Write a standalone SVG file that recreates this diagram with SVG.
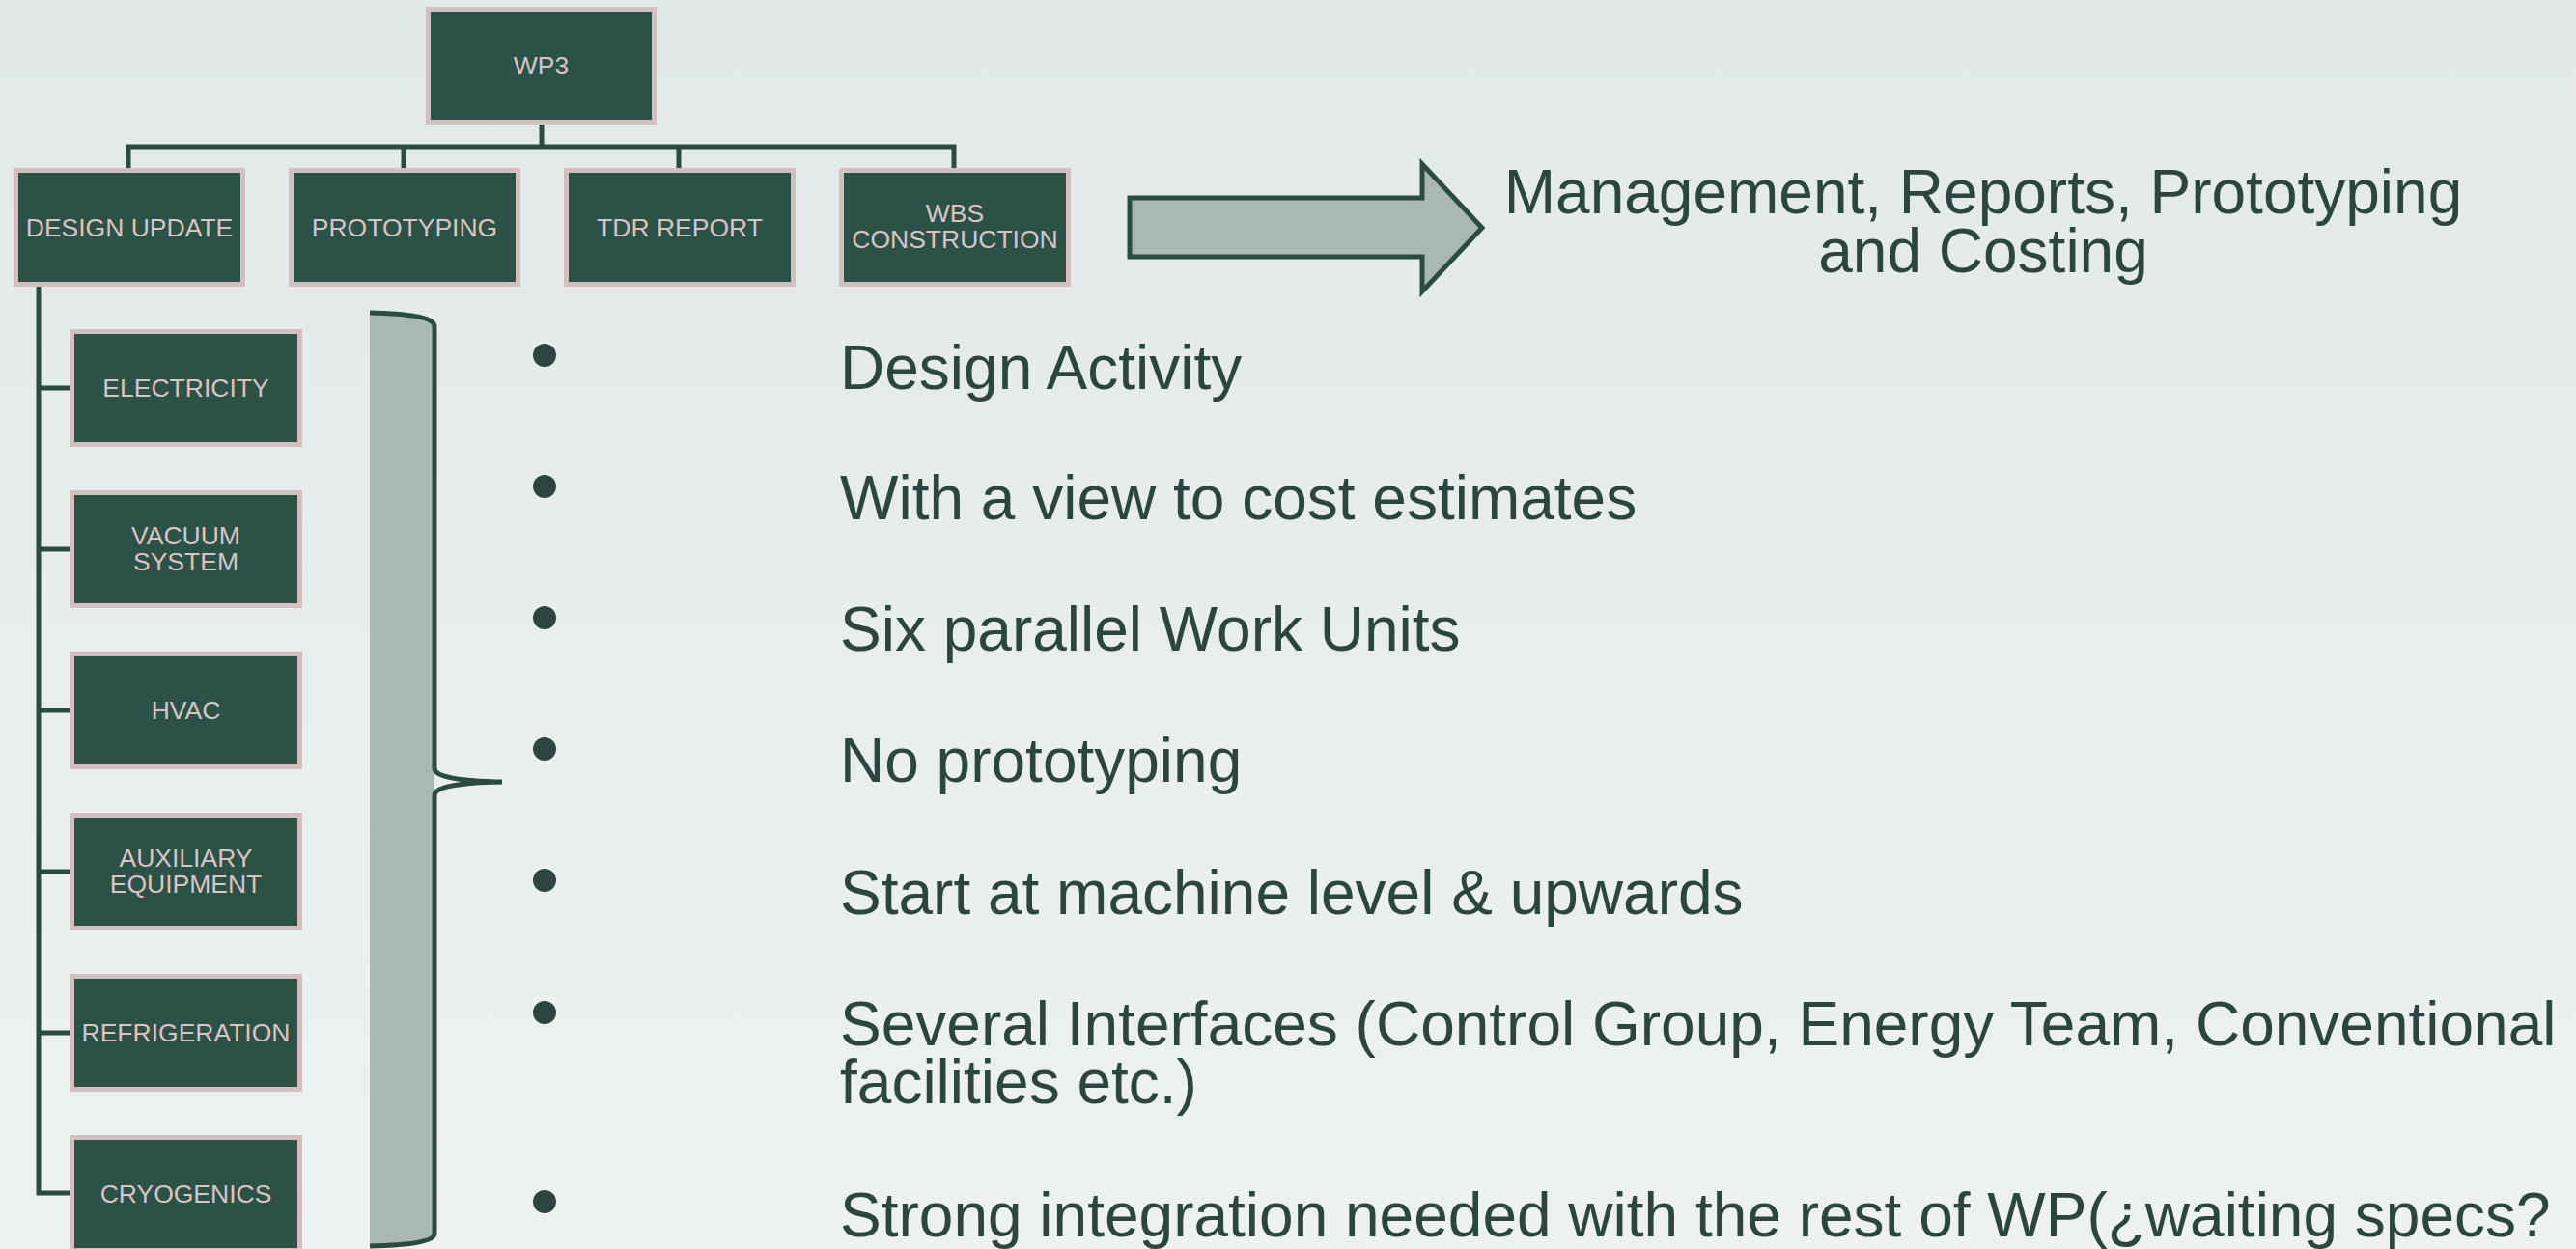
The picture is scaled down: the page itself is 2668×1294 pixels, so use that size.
<svg xmlns="http://www.w3.org/2000/svg" width="2668" height="1294" viewBox="0 0 2668 1294">
<style>
.box rect{fill:#2c5147;stroke:#d3bfc0;stroke-width:5}
.box text{font-family:"Liberation Sans",Arial,sans-serif;font-size:26.5px;fill:#d8c4c4;text-anchor:middle}
.con{stroke:#2a4a42;stroke-width:5;fill:none;stroke-linecap:square}
.bul{fill:#2d4540}
.bt{font-family:"Liberation Sans",Arial,sans-serif;font-size:64px;fill:#2d4540}
.title{font-family:"Liberation Sans",Arial,sans-serif;font-size:64px;fill:#2d4540;text-anchor:middle}
</style>
<defs>
<linearGradient id="bg" x1="0" y1="0" x2="0" y2="1">
<stop offset="0" stop-color="#e2e9e9"/>
<stop offset="1" stop-color="#edf1f1"/>
</linearGradient>
</defs>
<rect x="0" y="0" width="2668" height="1294" fill="url(#bg)"/>

<g id="connectors">
<path class="con" d="M561,129 V152 M133,152 H988 M133,152 V174 M418,152 V174 M703,152 V174 M988,152 V174"/>
<path class="con" d="M40,297 V1236 M40,402 H72 M40,569 H72 M40,736 H72 M40,903 H72 M40,1070 H72 M40,1236 H72"/>
</g>

<g id="wp3" class="box"><rect x="443.5" y="9.5" width="234" height="117"/><text x="560.5" y="77">WP3</text></g>
<g id="design-update" class="box"><rect x="16.5" y="176.5" width="235" height="118"/><text x="134" y="245">DESIGN UPDATE</text></g>
<g id="prototyping" class="box"><rect x="301.5" y="176.5" width="235" height="118"/><text x="419" y="245">PROTOTYPING</text></g>
<g id="tdr-report" class="box"><rect x="586.5" y="176.5" width="235" height="118"/><text x="704" y="245">TDR REPORT</text></g>
<g id="wbs-construction" class="box"><rect x="871.5" y="176.5" width="235" height="118"/><text x="989" y="230">WBS</text><text x="989" y="257">CONSTRUCTION</text></g>

<g id="electricity" class="box"><rect x="74.5" y="343.5" width="236" height="117"/><text x="192.5" y="411">ELECTRICITY</text></g>
<g id="vacuum-system" class="box"><rect x="74.5" y="510.5" width="236" height="117"/><text x="192.5" y="564">VACUUM</text><text x="192.5" y="591">SYSTEM</text></g>
<g id="hvac" class="box"><rect x="74.5" y="677.5" width="236" height="117"/><text x="192.5" y="745">HVAC</text></g>
<g id="auxiliary-equipment" class="box"><rect x="74.5" y="844.5" width="236" height="117"/><text x="192.5" y="898">AUXILIARY</text><text x="192.5" y="925">EQUIPMENT</text></g>
<g id="refrigeration" class="box"><rect x="74.5" y="1011.5" width="236" height="117"/><text x="192.5" y="1079">REFRIGERATION</text></g>
<g id="cryogenics" class="box"><rect x="74.5" y="1178.5" width="236" height="117"/><text x="192.5" y="1246">CRYOGENICS</text></g>

<g id="brace">
<path d="M383,324 C420,325 450,328 450,338 L450,1278 C450,1287 420,1290 383,1291 Z" fill="#a9b8b5"/>
<path d="M383,324 C420,325 450,328 450,338 L450,796 C450,804 470,809 520,810 C470,811 450,816 450,824 L450,1278 C450,1287 420,1290 383,1291" fill="none" stroke="#2a4a42" stroke-width="5"/>
</g>

<g id="arrow">
<path d="M1170,205 H1473 V170 L1535,236 L1473,302 V266 H1170 Z" fill="#a9b8b5" stroke="#2a4a42" stroke-width="5" stroke-linejoin="miter"/>
</g>

<g id="title">
<text class="title" x="2054" y="221">Management, Reports, Prototyping</text>
<text class="title" x="2054" y="282">and Costing</text>
</g>

<g id="bullets">
<circle class="bul" cx="564" cy="368" r="12"/>
<circle class="bul" cx="564" cy="504" r="12"/>
<circle class="bul" cx="564" cy="640" r="12"/>
<circle class="bul" cx="564" cy="776" r="12"/>
<circle class="bul" cx="564" cy="912" r="12"/>
<circle class="bul" cx="564" cy="1049" r="12"/>
<circle class="bul" cx="564" cy="1245" r="12"/>
<text class="bt" x="870" y="403">Design Activity</text>
<text class="bt" x="870" y="538">With a view to cost estimates</text>
<text class="bt" x="870" y="674">Six parallel Work Units</text>
<text class="bt" x="870" y="810">No prototyping</text>
<text class="bt" x="870" y="947">Start at machine level &amp; upwards</text>
<text class="bt" x="870" y="1083">Several Interfaces (Control Group, Energy Team, Conventional</text>
<text class="bt" x="870" y="1143">facilities etc.)</text>
<text class="bt" x="870" y="1281">Strong integration needed with the rest of WP(¿waiting specs?</text>
</g>
</svg>
